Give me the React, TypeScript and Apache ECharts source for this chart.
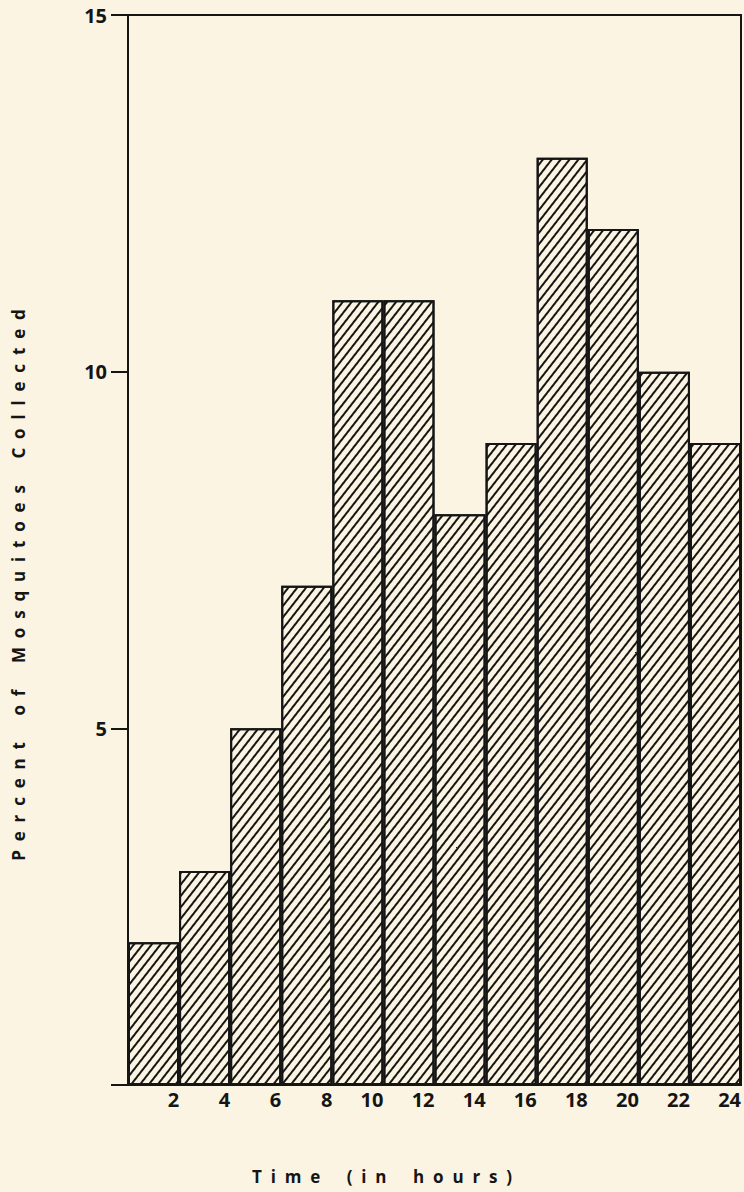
import React, { useEffect, useRef } from "react";
import * as echarts from "echarts";

const categories = ["0-2", "2-4", "4-6", "6-8", "8-10", "10-12", "12-14", "14-16", "16-18", "18-20", "20-22", "22-24"];
const percentValues = [2, 3, 5, 7, 11, 11, 8, 9, 13, 12, 10, 9];
const yTicks = [0, 5, 10, 15];
const hourTicks = [0, 2, 4, 6, 8, 10, 12, 14, 16, 18, 20, 22, 24];
const xTitleWords = ["Time", "(in", "hours)"];
const yTitleWords = ["Percent", "of", "Mosquitoes", "Collected"];

const spaced = (words: string[]) =>
  words.map((w) => w.split("").join("  ")).join("      ");

const INK = "#151515";
const BG = "#fbf4e2";
const FONT = "'Open Sans', 'DejaVu Sans', sans-serif";

export default function App() {
  const ref = useRef<HTMLDivElement>(null);
  useEffect(() => {
    document.body.style.margin = "0";
    const chart = echarts.init(ref.current!, undefined, { renderer: "svg" });
    chart.setOption({
      animation: false,
      backgroundColor: BG,
      grid: {
        left: 128,
        right: 3,
        top: 15,
        bottom: 107,
        show: true,
        borderColor: INK,
        borderWidth: 2,
        backgroundColor: "transparent",
      },
      xAxis: [
        {
          type: "category",
          data: categories,
          boundaryGap: true,
          axisLine: { show: true, lineStyle: { color: INK, width: 2 } },
          axisTick: { show: false },
          axisLabel: { show: false },
        },
        {
          type: "value",
          position: "bottom",
          min: hourTicks[0],
          max: hourTicks[hourTicks.length - 1],
          interval: 2,
          axisLine: { show: false },
          axisTick: { show: false },
          splitLine: { show: false },
          axisLabel: {
            show: true,
            align: "right",
            margin: 4,
            color: INK,
            fontSize: 20,
            fontWeight: "bold",
            fontFamily: FONT,
            formatter: (v: number) => (v === 0 ? "" : String(v)),
          },
        },
      ],
      yAxis: {
        type: "value",
        min: yTicks[0],
        max: yTicks[yTicks.length - 1],
        interval: 5,
        axisLine: { show: true, lineStyle: { color: INK, width: 2 } },
        axisTick: { show: true, length: 17, lineStyle: { color: INK, width: 2 } },
        splitLine: { show: false },
        axisLabel: {
          margin: 21,
          color: INK,
          fontSize: 20,
          fontWeight: "bold",
          fontFamily: FONT,
          formatter: (v: number) => (v === 0 ? "" : String(v)),
        },
      },
      series: [
        {
          type: "bar",
          xAxisIndex: 0,
          data: percentValues,
          barWidth: "100%",
          barGap: "0%",
          itemStyle: {
            color: BG,
            borderColor: INK,
            borderWidth: 2,
            decal: {
              symbol: "rect",
              symbolSize: 1,
              color: INK,
              dashArrayX: [1, 0],
              dashArrayY: [1.6, 5],
              rotation: -Math.PI * 52 / 180,
            },
          },
        },
      ],
      graphic: [
        {
          type: "text",
          x: 382,
          y: 1176,
          style: {
            text: spaced(xTitleWords),
            fill: INK,
            font: `bold 17px ${FONT}`,
            align: "center",
            verticalAlign: "middle",
          },
        },
        {
          type: "text",
          x: 18,
          y: 585,
          rotation: Math.PI / 2,
          style: {
            text: spaced(yTitleWords),
            fill: INK,
            font: `bold 17px ${FONT}`,
            align: "center",
            verticalAlign: "middle",
          },
        },
      ],
    });
    return () => chart.dispose();
  }, []);
  return <div ref={ref} style={{ position: "fixed", left: 0, top: 0, width: 744, height: 1192 }} />;
}
